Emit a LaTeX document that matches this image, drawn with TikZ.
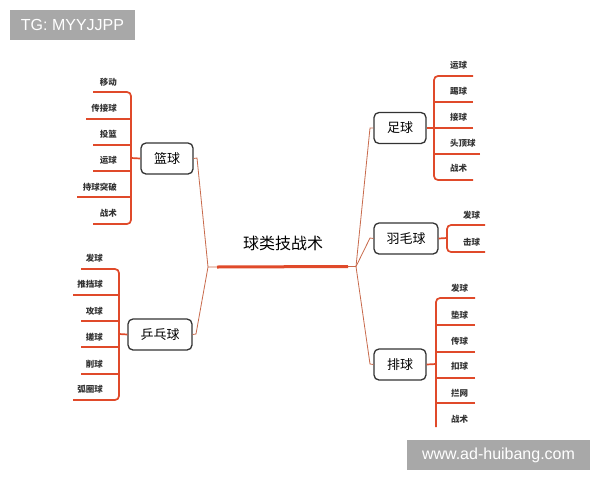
\documentclass[tikz,border=0pt]{standalone}
\usepackage{fontspec}
\newfontfamily\cjk{Noto Sans CJK SC}
\newfontfamily\wm{Liberation Sans}
\definecolor{leafred}{HTML}{E04A2A}
\definecolor{connred}{HTML}{C86A4C}
\definecolor{boxline}{HTML}{333333}
\definecolor{wmgray}{HTML}{A8A8A8}
\tikzset{
  sportbox/.style={draw=boxline, line width=1.3pt, rounded corners=5pt, fill=white,
    inner sep=0pt, minimum height=31pt, font=\cjk\fontsize{13}{13}\selectfont},
  leaflabel/.style={inner sep=0pt, font=\cjk\bfseries\fontsize{8.5}{9}\selectfont, text=black!80},
  leafline/.style={draw=leafred, line width=1.7pt, rounded corners=4pt},
  conn/.style={draw=connred, line width=0.8pt},
  wmark/.style={fill=wmgray, text=white, inner sep=0pt, font=\wm\fontsize{16}{16}\selectfont}
}
\begin{document}
\begin{tikzpicture}[x=1pt,y=-1pt]
\useasboundingbox (0,0) rectangle (600,480);
\fill[white] (0,0) rectangle (600,480);

% watermarks
\node[wmark, minimum width=125pt, minimum height=30pt] (tg) at (72.5,25) {TG: MYYJJPP};
\node[wmark, minimum width=183pt, minimum height=30pt] (web) at (498.5,455) {www.ad-huibang.com};

% centre
\node[inner sep=0pt, font=\cjk\fontsize{16}{16}\selectfont] (center) at (283,243) {球类技战术};
\coordinate (jl) at (208,267);
\coordinate (jr) at (356,266.5);
\draw[conn] (jl) -- (jr);
\draw[draw=leafred, line width=3pt] (217,267) -- (348,266.5);

% boxes
\node[sportbox, minimum width=52pt] (lanqiu) at (167,158.5) {篮球};
\node[sportbox, minimum width=64pt] (pingpang) at (160,334.5) {乒乓球};
\node[sportbox, minimum width=52pt] (zuqiu) at (400,128) {足球};
\node[sportbox, minimum width=64pt] (yumao) at (406,238.5) {羽毛球};
\node[sportbox, minimum width=52pt] (paiqiu) at (400,364.5) {排球};

% connectors from centre
\coordinate (lq) at (197,158);
\coordinate (pp) at (196,334);
\coordinate (zq) at (370,128);
\coordinate (ym) at (370,238);
\coordinate (pq) at (370,364);
\draw[conn] (lanqiu.east) -- (lq) -- (jl);
\draw[conn] (pingpang.east) -- (pp) -- (jl);
\draw[conn] (zuqiu.west) -- (zq) -- (jr);
\draw[conn] (yumao.west) -- (ym) -- (jr);
\draw[conn] (paiqiu.west) -- (pq) -- (jr);

% ---------- basketball leaves ----------
\coordinate (lqb) at (131,158);
\draw[leafline] (lanqiu.west) -- (lqb);
\draw[leafline] (93,92) -- (131,92) -- (131,224) -- (93,224);
\draw[leafline] (86,119) -- (131,119);
\draw[leafline] (93,145) -- (131,145);
\draw[leafline] (93,171) -- (131,171);
\draw[leafline] (77,197) -- (131,197);
\node[leaflabel, anchor=east] (lq1) at (117,82) {移动};
\node[leaflabel, anchor=east] (lq2) at (117,108) {传接球};
\node[leaflabel, anchor=east] (lq3) at (117,134) {投篮};
\node[leaflabel, anchor=east] (lq4) at (117,160) {运球};
\node[leaflabel, anchor=east] (lq5) at (117,187) {持球突破};
\node[leaflabel, anchor=east] (lq6) at (117,213) {战术};

% ---------- table tennis leaves ----------
\coordinate (ppb) at (119,334);
\draw[leafline] (pingpang.west) -- (ppb);
\draw[leafline] (81,269) -- (119,269) -- (119,400) -- (73,400);
\draw[leafline] (73,295) -- (119,295);
\draw[leafline] (81,321) -- (119,321);
\draw[leafline] (81,347) -- (119,347);
\draw[leafline] (81,374) -- (119,374);
\node[leaflabel, anchor=east] (pp1) at (103,258) {发球};
\node[leaflabel, anchor=east] (pp2) at (103,284) {推挡球};
\node[leaflabel, anchor=east] (pp3) at (103,311) {攻球};
\node[leaflabel, anchor=east] (pp4) at (103,337) {搓球};
\node[leaflabel, anchor=east] (pp5) at (103,364) {削球};
\node[leaflabel, anchor=east] (pp6) at (103,389) {弧圈球};

% ---------- football leaves ----------
\coordinate (zqb) at (434,128);
\draw[leafline] (zuqiu.east) -- (zqb);
\draw[leafline] (473,76) -- (434,76) -- (434,180) -- (473,180);
\draw[leafline] (473,102) -- (434,102);
\draw[leafline] (473,128) -- (434,128);
\draw[leafline] (480,154) -- (434,154);
\node[leaflabel, anchor=west] (zq1) at (450,65) {运球};
\node[leaflabel, anchor=west] (zq2) at (450,91) {踢球};
\node[leaflabel, anchor=west] (zq3) at (450,117) {接球};
\node[leaflabel, anchor=west] (zq4) at (450,143) {头顶球};
\node[leaflabel, anchor=west] (zq5) at (450,168) {战术};

% ---------- badminton leaves ----------
\coordinate (ymb) at (447,238);
\draw[leafline] (yumao.east) -- (ymb);
\draw[leafline] (485,225) -- (447,225) -- (447,252) -- (485,252);
\node[leaflabel, anchor=west] (ym1) at (463,215) {发球};
\node[leaflabel, anchor=west] (ym2) at (463,242) {击球};

% ---------- volleyball leaves ----------
\coordinate (pqb) at (436,364);
\draw[leafline] (paiqiu.east) -- (pqb);
\draw[leafline] (475,298) -- (436,298) -- (436,427);
\draw[leafline] (475,325) -- (436,325);
\draw[leafline] (475,352) -- (436,352);
\draw[leafline] (475,378) -- (436,378);
\draw[leafline] (475,403) -- (436,403);
\node[leaflabel, anchor=west] (pq1) at (451,288) {发球};
\node[leaflabel, anchor=west] (pq2) at (451,315) {垫球};
\node[leaflabel, anchor=west] (pq3) at (451,341) {传球};
\node[leaflabel, anchor=west] (pq4) at (451,366) {扣球};
\node[leaflabel, anchor=west] (pq5) at (451,393) {拦网};
\node[leaflabel, anchor=west] (pq6) at (451,419) {战术};
\end{tikzpicture}
\end{document}
